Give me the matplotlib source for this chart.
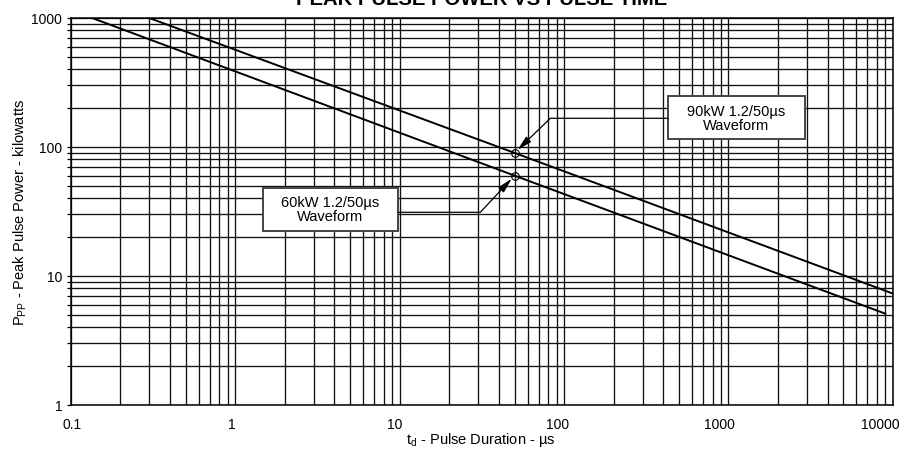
import matplotlib
matplotlib.use("Agg")
import matplotlib.pyplot as plt
from matplotlib.patches import Rectangle
from matplotlib.ticker import LogLocator, NullFormatter
from matplotlib.transforms import ScaledTranslation
import numpy as np

plt.rcParams['font.family'] = ['Liberation Sans', 'DejaVu Sans']
plt.rcParams['mathtext.fontset'] = 'custom'
plt.rcParams['mathtext.rm'] = 'Liberation Sans'
plt.rcParams['mathtext.it'] = 'Liberation Sans:italic'

# ---- data ----
t_90 = [0.3, 50, 10000]
p_90 = [1000, 90, 7.3]
t_60 = [0.135, 50, 9000]
p_60 = [1000, 60, 5.1]
rated_t = [50, 50]
rated_p = [90, 60]
x_ticks = [0.1, 1, 10, 100, 1000, 10000]
x_labels = ['0.1', '1', '10', '100', '1000', '10000']
y_ticks = [1, 10, 100, 1000]
y_labels = ['1', '10', '100', '1000']
box_labels = ['90kW 1.2/50µs\nWaveform', '60kW 1.2/50µs\nWaveform']

fig = plt.figure(figsize=(9.06, 4.52), dpi=100)
ax = fig.add_axes([0.0780, 0.1018, 0.9076, 0.8562])
ax.set_xscale('log')
ax.set_yscale('log')
ax.set_xlim(0.1, 10000)
ax.set_ylim(1, 1000)
ax.set_axisbelow(True)

ax.xaxis.set_minor_locator(LogLocator(base=10, subs=np.arange(2, 10), numticks=30))
ax.yaxis.set_minor_locator(LogLocator(base=10, subs=np.arange(2, 10), numticks=30))
ax.xaxis.set_minor_formatter(NullFormatter())
ax.yaxis.set_minor_formatter(NullFormatter())
ax.set_xticks(x_ticks, x_labels)
ax.set_yticks(y_ticks, y_labels)
ax.grid(which='both', color='#111111', lw=0.95)
ax.tick_params(axis='x', which='both', length=0, pad=9, labelsize=10)
ax.tick_params(axis='y', which='both', length=3, width=0.9, pad=3, labelsize=10)
for s in ax.spines.values():
    s.set_color('black')
    s.set_linewidth(1.1)

# small horizontal shifts of the x tick labels (pixels), as in the reference
x_label_shift = [1, -3, -5, -6, -9, -13]
for lab, dx in zip(ax.get_xticklabels(), x_label_shift):
    lab.set_transform(lab.get_transform() + ScaledTranslation(dx / 100, 0, fig.dpi_scale_trans))

ax.plot(t_90, p_90, color='black', lw=1.4, zorder=3)
ax.plot(t_60, p_60, color='black', lw=1.4, zorder=3)
ax.plot(rated_t, rated_p, 'o', mfc='none', mec='black', ms=5.5, mew=0.8, zorder=4)

# boxes (axes fraction): x0, y0, w, h ; leader start ; corner angle
boxes = [
    dict(rect=(0.7264, 0.6873, 0.1666, 0.1111), start=(0.7264, 0.7408), angB=44),
    dict(rect=(0.2337, 0.4496, 0.1645, 0.1111), start=(0.3982, 0.4979), angB=47),
]
for i, b in enumerate(boxes):
    x0, y0, w, h = b['rect']
    ax.add_patch(Rectangle((x0, y0), w, h, transform=ax.transAxes,
                           facecolor='white', edgecolor='#444444', lw=1.4, zorder=5))
    ax.text(x0 + w / 2, y0 + h / 2, box_labels[i], transform=ax.transAxes,
            ha='center', va='center', fontsize=10.5, linespacing=1.0, zorder=6)
    ax.annotate('', xy=(rated_t[i], rated_p[i]), xycoords='data',
                xytext=b['start'], textcoords='axes fraction',
                arrowprops=dict(arrowstyle='-|>,head_length=0.9,head_width=0.22',
                                color='black', lw=0.9, shrinkA=0, shrinkB=3,
                                connectionstyle='angle,angleA=0,angleB=%d,rad=0' % b['angB']),
                zorder=6)

fig.text(0.532, 1 - 5 / 452, 'PEAK PULSE POWER VS PULSE TIME', ha='center',
         va='baseline', fontsize=14.6, fontweight='bold')
fig.text(20 / 906, 1 - 212.5 / 452,
         r'P$_{\mathrm{PP}}$ - Peak Pulse Power - kilowatts',
         rotation=90, ha='center', va='center', fontsize=10.5)
fig.text(481 / 906, 1 - 440 / 452, r't$_{\mathrm{d}}$ - Pulse Duration - µs',
         ha='center', va='center', fontsize=10.5)

fig.savefig('out.png', dpi=100)
